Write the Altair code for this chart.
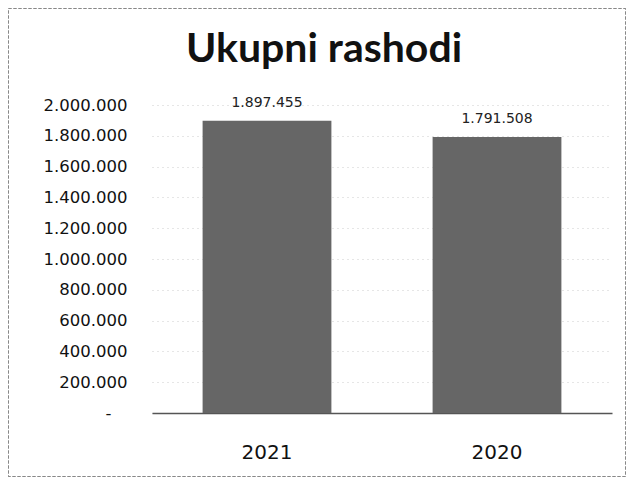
import altair as alt
import pandas as pd

years = ["2021", "2020"]
values = [1897455, 1791508]
y_ticks = [0, 200000, 400000, 600000, 800000, 1000000, 1200000, 1400000, 1600000, 1800000, 2000000]
title_text = "Ukupni rashodi"

df = pd.DataFrame({"year": years, "value": values})

W, H = 460, 308
PL, PT, PR, PB = 144, 97, 15, 65
FONT = "DejaVu Sans"

x = alt.X("year:N", sort=years, title=None,
          scale=alt.Scale(paddingInner=0.44, paddingOuter=0.22),
          axis=alt.Axis(labelAngle=0, ticks=False, labelPadding=29, labelFontSize=20,
                        labelFont=FONT, labelColor="#111", domainColor="#555", domainWidth=1.5))
y = alt.Y("value:Q", title=None,
          scale=alt.Scale(domain=[0, 2000000]),
          axis=alt.Axis(values=y_ticks, format=",d", ticks=False, domain=False,
                        labelPadding={"condition": {"test": "datum.value === 0", "value": 41}, "value": 25},
                        labelOverlap=False, tickCount=11,
                        labelFontSize=16.5, labelFont=FONT, labelColor="#111",
                        labelExpr="datum.value == 0 ? '-' : datum.label",
                        gridColor="#cccccc", gridDash=[1, 4], gridWidth=1))

bars = alt.Chart(df).mark_bar(color="#666666").encode(x=x, y=y)
labels = alt.Chart(df).mark_text(dy=-18, fontSize=14, font=FONT, color="#222").encode(
    x=x, y=y, text=alt.Text("value:Q", format=",d"))
border = alt.Chart(df).mark_rect(fill=None, stroke="#888", strokeWidth=1, strokeDash=[3, 2]).encode(
    x=alt.value(-PL + 0.5), x2=alt.value(W + PR - 1.5), y=alt.value(-PT + 0.5), y2=alt.value(H + PB - 1.5))
title = alt.Chart(pd.DataFrame({"t": [title_text]})).mark_text(
    fontSize=41, font="Lato", fontWeight="bold", color="#111", align="center", baseline="alphabetic").encode(
    x=alt.value(324 - 8 - PL), y=alt.value(62 - 8 - PT), text="t:N")

chart = alt.layer(bars, labels, border, title).properties(
    width=W, height=H,
    padding={"left": PL, "top": PT, "right": PR, "bottom": PB},
    autosize=alt.AutoSizeParams(type="none"),
).configure(
    locale={"number": {"decimal": ",", "thousands": ".", "grouping": [3], "currency": ["", ""]}}
).configure_view(stroke=None)

chart.save("out.html", embed_options={"renderer": "svg", "actions": False})
